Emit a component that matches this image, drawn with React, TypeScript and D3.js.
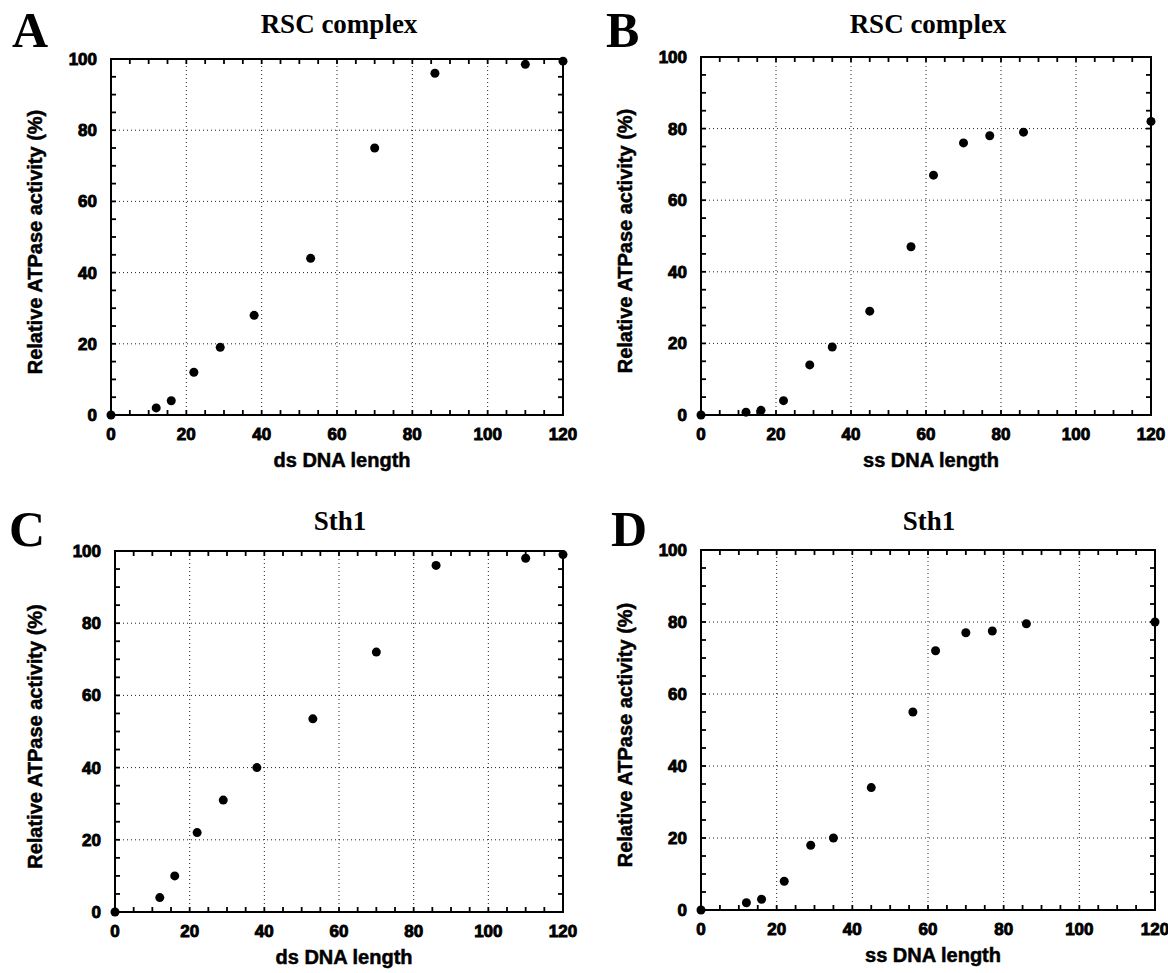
import React from "react";
import { scaleLinear, range } from "d3";

// DNA lengths (x) and relative ATPase activity in % (y)
const dsLength = [0, 12, 16, 22, 29, 38, 53, 70, 86, 110, 120];
const rscDsActivity = [0, 2, 4, 12, 19, 28, 44, 75, 96, 98.5, 99.4];
const sth1DsActivity = [0, 4, 10, 22, 31, 40, 53.5, 72, 96, 98, 99];

const ssLength = [0, 12, 16, 22, 29, 35, 45, 56, 62, 70, 77, 86, 120];
const rscSsActivity = [0, 0.8, 1.3, 4, 14, 19, 29, 47, 67, 76, 78, 79, 82];
const sth1SsActivity = [0, 2, 3, 8, 18, 20, 34, 55, 72, 77, 77.5, 79.5, 80];

const xTicks = [0, 20, 40, 60, 80, 100, 120];
const yTicks = [0, 20, 40, 60, 80, 100];

const sans = "'Liberation Sans', Arial, sans-serif";
const serif = "'Liberation Serif', 'Times New Roman', serif";

type PanelProps = {
  letter: string;
  title: string;
  xLabel: string;
  xs: number[];
  ys: number[];
  box: { left: number; right: number; top: number; bottom: number };
  titleX: number;
  titleY: number;
  letterX: number;
  letterY: number;
  yLabelX: number;
};

function Panel({ letter, title, xLabel, xs, ys, box, titleX, titleY, letterX, letterY, yLabelX }: PanelProps) {
  const x = scaleLinear().domain([0, 120]).range([box.left, box.right]);
  const y = scaleLinear().domain([0, 100]).range([box.bottom, box.top]);

  const minorX = range(0, 121, 5);
  const minorY = range(0, 101, 5);
  const tick = 5;

  return (
    <g>
      <text x={letterX} y={letterY} fontFamily={serif} fontWeight="bold" fontSize={50}>
        {letter}
      </text>
      <text x={titleX} y={titleY} textAnchor="middle" fontFamily={serif} fontWeight="bold" fontSize={27}>
        {title}
      </text>

      {/* dotted grid */}
      {xTicks.slice(1, -1).map((t) => (
        <line key={"gx" + t} x1={x(t)} x2={x(t)} y1={y(0)} y2={y(100)}
          stroke="#222" strokeWidth={1} strokeDasharray="1,3" />
      ))}
      {yTicks.slice(1, -1).map((t) => (
        <line key={"gy" + t} x1={x(0)} x2={x(120)} y1={y(t)} y2={y(t)}
          stroke="#222" strokeWidth={1} strokeDasharray="1,3" />
      ))}

      {/* inward ticks on all four sides */}
      {minorX.map((t) => (
        <g key={"tx" + t}>
          <line x1={x(t)} x2={x(t)} y1={y(0)} y2={y(0) - tick} stroke="#000" strokeWidth={1.8} />
          <line x1={x(t)} x2={x(t)} y1={y(100)} y2={y(100) + tick} stroke="#000" strokeWidth={1.8} />
        </g>
      ))}
      {minorY.map((t) => (
        <g key={"ty" + t}>
          <line x1={x(0)} x2={x(0) + tick} y1={y(t)} y2={y(t)} stroke="#000" strokeWidth={1.8} />
          <line x1={x(120)} x2={x(120) - tick} y1={y(t)} y2={y(t)} stroke="#000" strokeWidth={1.8} />
        </g>
      ))}

      <rect x={x(0)} y={y(100)} width={x(120) - x(0)} height={y(0) - y(100)}
        fill="none" stroke="#000" strokeWidth={2} />

      {/* tick labels */}
      {xTicks.map((t) => (
        <text key={"lx" + t} x={x(t)} y={y(0) + 25} textAnchor="middle"
          fontFamily={sans} fontWeight="bold" fontSize={17} stroke="#000" strokeWidth={0.9}>
          {t}
        </text>
      ))}
      {yTicks.map((t) => (
        <text key={"ly" + t} x={x(0) - 14} y={y(t) + 6} textAnchor="end"
          fontFamily={sans} fontWeight="bold" fontSize={17} stroke="#000" strokeWidth={0.9}>
          {t}
        </text>
      ))}

      {/* axis titles */}
      <text x={(x(0) + x(120)) / 2 + 5} y={y(0) + 52} textAnchor="middle"
        fontFamily={sans} fontWeight="bold" fontSize={20} stroke="#000" strokeWidth={0.5}>
        {xLabel}
      </text>
      <text transform={`translate(${yLabelX},${(y(0) + y(100)) / 2 + 5}) rotate(-90)`}
        textAnchor="middle" fontFamily={sans} fontWeight="bold" fontSize={20} stroke="#000" strokeWidth={0.5}>
        Relative ATPase activity (%)
      </text>

      {/* data points */}
      {xs.map((v, i) => (
        <circle key={"p" + i} cx={x(v)} cy={y(ys[i])} r={4.5} fill="#000" />
      ))}
    </g>
  );
}

export default function App() {
  return (
    <svg width={1168} height={973} style={{ position: "absolute", left: 0, top: 0, background: "#fff" }}>
      <Panel letter="A" title="RSC complex" xLabel="ds DNA length" xs={dsLength} ys={rscDsActivity}
        box={{ left: 111, right: 563, top: 59, bottom: 415 }}
        titleX={339} titleY={33} letterX={12} letterY={47} yLabelX={42} />
      <Panel letter="B" title="RSC complex" xLabel="ss DNA length" xs={ssLength} ys={rscSsActivity}
        box={{ left: 701, right: 1151, top: 57, bottom: 415 }}
        titleX={928} titleY={33} letterX={606} letterY={47} yLabelX={632} />
      <Panel letter="C" title="Sth1" xLabel="ds DNA length" xs={dsLength} ys={sth1DsActivity}
        box={{ left: 115, right: 563, top: 551, bottom: 912 }}
        titleX={340} titleY={530} letterX={9} letterY={546} yLabelX={42} />
      <Panel letter="D" title="Sth1" xLabel="ss DNA length" xs={ssLength} ys={sth1SsActivity}
        box={{ left: 701, right: 1155, top: 550, bottom: 910 }}
        titleX={929} titleY={530} letterX={611} letterY={546} yLabelX={632} />
    </svg>
  );
}
